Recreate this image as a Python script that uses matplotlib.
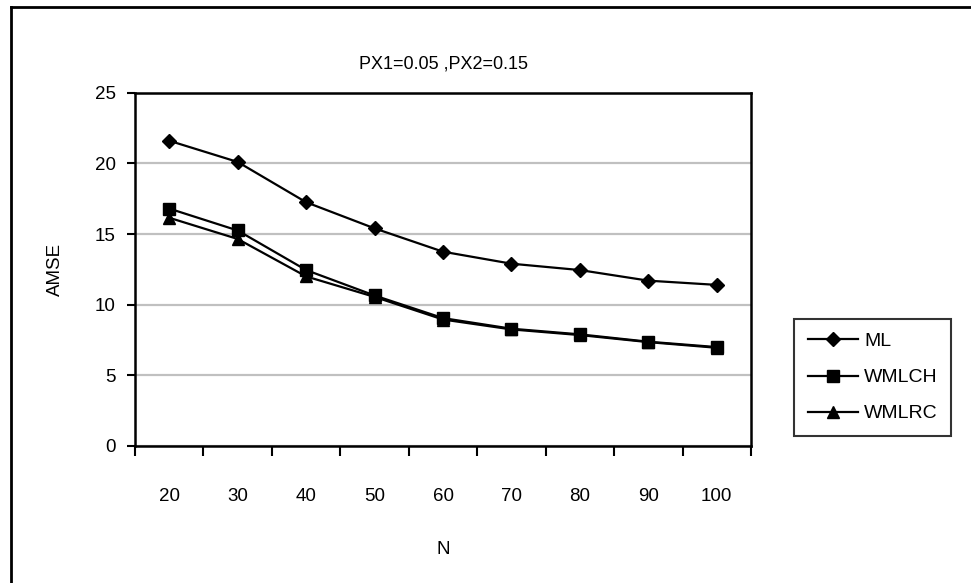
import matplotlib.pyplot as plt
from matplotlib.lines import Line2D

plt.rcParams['font.family'] = ['Liberation Sans', 'DejaVu Sans']

n_labels = ['20', '30', '40', '50', '60', '70', '80', '90', '100']
ml = [21.6, 20.1, 17.25, 15.4, 13.75, 12.9, 12.45, 11.7, 11.4]
wmlch = [16.8, 15.25, 12.45, 10.65, 9.05, 8.3, 7.9, 7.38, 7.0]
wmlrc = [16.15, 14.65, 12.0, 10.55, 8.95, 8.25, 7.85, 7.35, 6.95]

fig = plt.figure(figsize=(9.71, 5.83), dpi=100)
ax = fig.add_axes([135/971, 1 - 446/583, 616/971, (446 - 92.7)/583])

x = list(range(len(n_labels)))
ax.plot(x, ml, color='black', lw=1.6, marker='D', ms=7, label='ML')
ax.plot(x, wmlch, color='black', lw=1.6, marker='s', ms=9, label='WMLCH')
ax.plot(x, wmlrc, color='black', lw=1.6, marker='^', ms=9, label='WMLRC')

ax.set_xlim(-0.5, len(n_labels) - 0.5)
ax.set_ylim(0, 25)
ax.set_yticks([0, 5, 10, 15, 20, 25])
ax.yaxis.grid(True, color='#c0c0c0', lw=1.6)
ax.set_axisbelow(True)

# ticks between categories, labels at category centres
ax.set_xticks([i - 0.5 for i in range(len(n_labels) + 1)])
ax.set_xticklabels([])
ax.set_xticks(x, minor=True)
ax.set_xticklabels(n_labels, minor=True)
ax.tick_params(axis='x', which='major', direction='out', length=7, width=1.5)
ax.tick_params(axis='x', which='minor', length=0, pad=30, labelsize=13.5)
ax.tick_params(axis='y', direction='out', length=6, width=1.5, labelsize=13.5, pad=8)

for s in ax.spines.values():
    s.set_linewidth(1.8)

ax.set_xlabel('N', fontsize=13.5, labelpad=26)
ax.set_ylabel('AMSE', fontsize=13.5, labelpad=22)
fig.text(443/971, 1 - 64/583, 'PX1=0.05 ,PX2=0.15', ha='center', va='center', fontsize=13)

leg = fig.legend(loc='upper left', bbox_to_anchor=(794/971, 1 - 319/583),
                 fontsize=14, frameon=True, fancybox=False, edgecolor='black',
                 handlelength=2.6, labelspacing=0.95, borderpad=0.7,
                 handletextpad=0.3, borderaxespad=0)
leg.get_frame().set_linewidth(1.5)

# outer chart border
fig.add_artist(Line2D([11/971, 11/971], [0, 1 - 7/583], color='black', lw=2))
fig.add_artist(Line2D([11/971, 1], [1 - 7/583, 1 - 7/583], color='black', lw=2))

fig.savefig('out.png', dpi=100)
